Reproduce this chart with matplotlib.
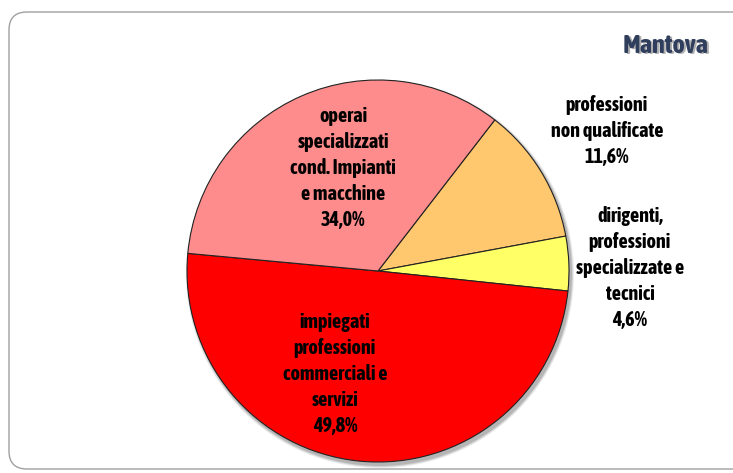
import matplotlib.pyplot as plt
from matplotlib.patches import FancyBboxPatch, Circle
from matplotlib import font_manager

labels = ['professioni\nnon qualificate', 'dirigenti,\nprofessioni\nspecializzate e\ntecnici',
          'impiegati\nprofessioni\ncommerciali e\nservizi', 'operai\nspecializzati\ncond. Impianti\ne macchine']
values = [11.6, 4.6, 49.8, 34.0]
colors = ['#FFC86E', '#FFFF66', '#FF0000', '#FF8C8C']
title = 'Mantova'


def wt(f):
    w = f.weight
    if isinstance(w, str):
        return 700 if 'bold' in w.lower() else 400
    return w


# look for a bold narrow font, fall back to DejaVu Sans
narrow = sorted({f.name for f in font_manager.fontManager.ttflist
                 if ('Narrow' in f.name or 'Condensed' in f.name) and wt(f) >= 700})
fam = narrow[:1] + ['DejaVu Sans']

W, H = 733, 473
fig = plt.figure(figsize=(W / 100, H / 100), dpi=100)
ax = fig.add_axes([0, 0, 1, 1])

# rounded frame
frame = FancyBboxPatch((9, 4), 760, 457, boxstyle='round,pad=0,rounding_size=18',
                       facecolor='white', edgecolor='#a0a0a0', linewidth=1)
ax.add_patch(frame)

cx, cy, r = 378, 202, 191
# soft shadow
for i, a in enumerate([0.08, 0.10, 0.14]):
    ax.add_patch(Circle((cx + 2, cy - 3), r + 3 - i, facecolor='black', alpha=a, edgecolor='none'))

ax.pie(values, colors=colors, startangle=52.3, counterclock=False, center=(cx, cy), radius=r,
       wedgeprops=dict(edgecolor='#222222', linewidth=0.8), frame=True)
ax.set_xlim(0, W)
ax.set_ylim(0, H)
ax.set_aspect('equal')
ax.axis('off')

font = dict(family=fam, fontweight='bold', fontstretch='condensed', fontsize=14.5,
            ha='center', va='center', linespacing=1.36, color='black')
pos = [(607, 342), (630, 205), (335, 99), (343, 305)]
for lab, v, (x, y) in zip(labels, values, pos):
    txt = lab + '\n' + ('%.1f' % v).replace('.', ',') + '%'
    ax.text(x, y, txt, **font)

# title with a faint shadow
ax.text(710, 427, title, ha='right', va='center', fontsize=19, fontweight='bold',
        fontstretch='condensed', color='#b0b0b0', family=fam)
ax.text(709, 428, title, ha='right', va='center', fontsize=19, fontweight='bold',
        fontstretch='condensed', color='#2E3E5C', family=fam)

fig.savefig('out.png', dpi=100)
